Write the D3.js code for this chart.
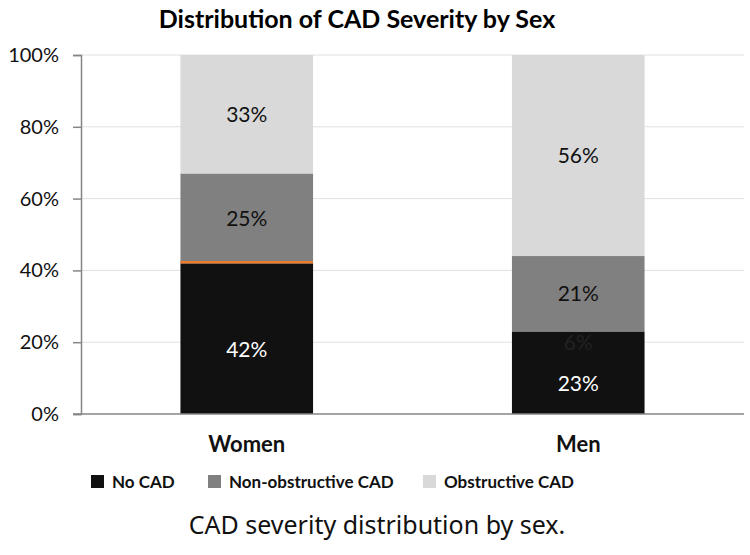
<!DOCTYPE html>
<html><head><meta charset="utf-8">
<script src="https://cdn.jsdelivr.net/npm/d3@7"></script>
<style>body{margin:0;background:#fff}svg{display:block}</style>
</head><body>
<script>
const categories = ["Women", "Men"];
const seriesNames = ["No CAD", "Non-obstructive CAD", "Obstructive CAD"];
const noCAD = [42, 23];
const nonObstructive = [25, 21];
const obstructive = [33, 56];
const seriesColors = ["#111111", "#808080", "#d9d9d9"];
const labelColors = ["#ffffff", "#111111", "#111111"];
const yTicks = [0, 20, 40, 60, 80, 100];
const markerLine = {category: "Women", value: 42};  // thin orange line
const hiddenLabel = {category: "Men", text: "6%", pos: 20};

const W = 750, H = 555;
const svg = d3.select("body").append("svg").attr("width", W).attr("height", H);
const m = {left: 81, right: 6, top: 55, bottom: 141};
const x = d3.scaleBand().domain(categories).range([m.left, W - m.right]).paddingInner(0.6).paddingOuter(0.3);
const y = d3.scaleLinear().domain([0, 100]).range([H - m.bottom, m.top]);

const font = "Lato, 'Open Sans', sans-serif";

svg.append("text").attr("x", 357).attr("y", 28).attr("text-anchor", "middle")
  .attr("font-family", font).attr("font-weight", "bold").attr("font-size", 25).text("Distribution of CAD Severity by Sex");

// gridlines
svg.append("g").selectAll("line").data(yTicks.filter(d => d > 0)).join("line")
  .attr("x1", m.left).attr("x2", W - m.right).attr("y1", d => y(d)).attr("y2", d => y(d))
  .attr("stroke", "#e0e0e0").attr("stroke-width", 1);

const rows = categories.map((c, i) => ({cat: c, "No CAD": noCAD[i], "Non-obstructive CAD": nonObstructive[i], "Obstructive CAD": obstructive[i]}));
const stack = d3.stack().keys(seriesNames)(rows);

const g = svg.append("g");
stack.forEach((s, si) => {
  g.selectAll(null).data(s).join("rect")
    .attr("x", d => x(d.data.cat)).attr("width", x.bandwidth())
    .attr("y", d => y(d[1])).attr("height", d => y(d[0]) - y(d[1]))
    .attr("fill", seriesColors[si]);
  g.selectAll(null).data(s).join("text")
    .attr("x", d => x(d.data.cat) + x.bandwidth() / 2)
    .attr("y", d => y((d[0] + d[1]) / 2) + (si === 0 ? 11 : 0))
    .attr("dy", "0.35em").attr("text-anchor", "middle")
    .attr("font-family", font).attr("font-size", 21).attr("fill", labelColors[si])
    .text(d => (d[1] - d[0]) + "%");
});

// orange marker
g.append("line")
  .attr("x1", x(markerLine.category)).attr("x2", x(markerLine.category) + x.bandwidth())
  .attr("y1", y(markerLine.value) - 1).attr("y2", y(markerLine.value) - 1)
  .attr("stroke", "#ed7d31").attr("stroke-width", 2.5);

g.append("text").attr("x", x(hiddenLabel.category) + x.bandwidth() / 2).attr("y", y(hiddenLabel.pos))
  .attr("dy", "0.35em").attr("text-anchor", "middle").attr("font-family", font).attr("font-size", 21)
  .attr("fill", "#222").text(hiddenLabel.text);

// y axis
const ya = svg.append("g").attr("transform", `translate(${m.left},0)`)
  .call(d3.axisLeft(y).tickValues(yTicks).tickFormat(d => d + "%").tickSizeOuter(0).tickSize(8).tickPadding(14));
ya.select(".domain").attr("stroke", "#868686").attr("stroke-width", 1.5);
ya.selectAll(".tick line").attr("stroke", "#868686").attr("stroke-width", 1.5);
ya.selectAll("text").attr("font-family", font).attr("font-size", 20).attr("fill", "#111");

// x axis
const xa = svg.append("g").attr("transform", `translate(0,${y(0)})`)
  .call(d3.axisBottom(x).tickSize(0).tickSizeOuter(0).tickPadding(22));
xa.select(".domain").attr("stroke", "#868686").attr("stroke-width", 1.5).attr("d", `M${m.left - 8},0H${W - m.right}`);
xa.selectAll("text").attr("font-family", font).attr("font-weight", "bold").attr("font-size", 22).attr("fill", "#111");

// legend
const legendX = [91, 208, 423];
const lg = svg.append("g");
seriesNames.forEach((n, i) => {
  lg.append("rect").attr("x", legendX[i]).attr("y", 475).attr("width", 13).attr("height", 13).attr("fill", seriesColors[i]);
  lg.append("text").attr("x", legendX[i] + 21).attr("y", 482).attr("dy", "0.35em")
    .attr("font-family", font).attr("font-weight", "bold").attr("font-size", 17).attr("fill", "#111").text(n);
});

svg.append("text").attr("x", 377).attr("y", 534).attr("text-anchor", "middle")
  .attr("font-family", "'Noto Sans', sans-serif").attr("font-size", 25).attr("fill", "#111")
  .text("CAD severity distribution by sex.");
</script>
</body></html>
